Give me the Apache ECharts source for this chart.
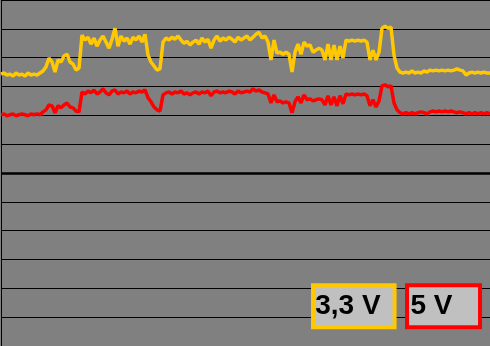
<!DOCTYPE html>
<html>
<head>
<meta charset="utf-8">
<script src="https://cdn.jsdelivr.net/npm/echarts@6/dist/echarts.min.js"></script>
<style>html,body{margin:0;padding:0;background:#808080;}#c{width:490px;height:346px;}</style>
</head>
<body>
<div id="c"></div>
<script>
// Trace values in scope divisions x10 (centre line = 60), one sample per time step
const seriesNames = ['3,3 V', '5 V'];
const rail33 = [94.3,94.7,94.0,94.3,93.6,94.7,94.0,94.3,93.6,94.7,94.0,94.3,94.0,94.7,95.4,96.8,99.9,98.5,95.0,99.2,
98.5,100.6,101.2,98.5,97.8,95.7,96.4,107.8,106.1,107.1,104.7,106.8,104.0,106.1,107.5,105.4,103.3,106.4,110.2,104.0,
107.5,105.7,106.8,104.7,107.1,106.1,107.5,105.4,108.1,100.9,98.5,97.1,95.7,96.1,105.4,106.8,106.1,107.1,106.4,107.5,
106.1,105.0,105.7,104.4,105.4,106.1,104.7,106.8,105.4,106.4,103.3,106.1,107.5,105.7,106.8,106.1,107.1,106.4,105.4,107.1,
106.1,106.8,107.5,106.1,107.1,108.1,108.8,106.8,107.5,105.4,99.2,106.1,101.6,101.9,101.2,101.9,101.2,95.0,101.9,104.7,
101.2,105.4,104.0,104.4,101.9,102.6,103.3,102.6,99.2,104.7,99.2,104.4,99.2,104.0,99.9,106.1,105.7,106.1,105.7,106.1,
105.7,106.1,105.4,99.2,102.6,99.2,101.9,110.2,110.9,110.2,110.6,100.9,96.4,95.0,94.7,95.0,94.7,95.4,94.7,95.0,
94.7,95.4,95.0,95.7,95.4,95.7,95.4,95.7,95.4,95.7,95.4,95.7,96.1,95.7,95.4,94.0,94.7,95.0,94.7,95.0,
94.7,95.0,94.7,94.7];
const rail5 = [80.2,80.5,79.8,80.2,80.5,79.8,80.2,80.5,80.2,79.8,80.5,80.2,80.5,80.2,81.2,81.9,83.6,83.3,80.9,83.3,
82.6,83.6,84.3,82.9,82.6,81.5,81.2,88.1,87.4,88.4,87.8,88.8,87.4,88.1,89.2,87.8,87.1,88.4,88.8,87.4,
88.1,87.8,88.4,87.4,88.1,87.8,88.4,88.1,88.8,86.1,84.7,82.9,81.9,81.5,87.1,87.8,88.1,87.4,88.1,87.8,
88.4,87.4,87.8,87.1,87.8,88.1,87.4,88.1,87.8,88.4,86.8,88.1,88.4,87.8,88.1,87.8,88.4,88.1,87.4,88.4,
87.8,88.1,88.4,88.1,89.2,88.4,88.8,88.1,87.8,87.4,84.3,87.1,84.7,85.0,84.3,84.7,84.3,80.9,84.7,86.4,
84.3,87.1,85.4,85.7,85.0,85.4,85.7,85.4,83.6,86.8,83.6,86.4,83.3,86.8,84.0,87.4,87.1,87.4,87.1,87.4,
87.1,87.4,86.8,83.3,85.4,82.9,85.0,90.2,90.6,89.9,90.2,84.3,81.9,80.9,80.5,80.9,80.5,80.9,80.5,80.9,
81.2,80.9,80.5,81.2,81.5,81.2,81.5,81.2,81.5,81.2,81.5,81.2,80.9,81.2,80.9,80.5,80.9,80.5,80.9,80.5,
80.9,80.5,80.9,80.5];
const centreLine = 60;

const toPairs = arr => arr.map((v, i) => [i, v]);

const chart = echarts.init(document.getElementById('c'), null, {renderer: 'canvas'});
chart.setOption({
  animation: false,
  backgroundColor: '#808080',
  grid: {left: 1, top: -0.3, width: 489, height: 347.5, containLabel: false},
  xAxis: {type: 'value', min: 0, max: rail33.length - 1, show: false, splitLine: {show: false}},
  yAxis: {
    type: 'value', min: 0, max: 120, interval: 10,
    axisLine: {show: true, onZero: false, lineStyle: {color: '#000', width: 1}},
    axisTick: {show: false}, axisLabel: {show: false},
    splitLine: {show: true, lineStyle: {color: '#000', width: 1}}
  },
  legend: [
    {data: [seriesNames[0]], left: 313, top: 285.3, align: 'right', orient: 'horizontal',
     itemWidth: 0, itemHeight: 0, icon: 'rect', padding: [7, 9, 7, 2.2],
     backgroundColor: '#c0c0c0', borderColor: '#ffc800', borderWidth: 4, borderRadius: 0,
     textStyle: {fontFamily: 'Liberation Sans', fontWeight: 'bold', fontSize: 28, color: '#000'}},
    {data: [seriesNames[1]], left: 407, top: 285.3, align: 'right', orient: 'horizontal',
     itemWidth: 0, itemHeight: 0, icon: 'rect', padding: [7, 22.5, 7, 3.5],
     backgroundColor: '#c0c0c0', borderColor: '#ff0000', borderWidth: 4, borderRadius: 0,
     textStyle: {fontFamily: 'Liberation Sans', fontWeight: 'bold', fontSize: 28, color: '#000'}}
  ],
  series: [
    {name: seriesNames[0], type: 'line', data: toPairs(rail33), symbol: 'none', color: '#ffc800',
     lineStyle: {color: '#ffc800', width: 3.5},
     markLine: {silent: true, symbol: 'none', label: {show: false},
       lineStyle: {color: '#000', width: 2.5, type: 'solid'}, data: [{yAxis: centreLine}]}},
    {name: seriesNames[1], type: 'line', data: toPairs(rail5), symbol: 'none', color: '#ff0000',
     lineStyle: {color: '#ff0000', width: 3.5}}
  ]
});
</script>
</body>
</html>
